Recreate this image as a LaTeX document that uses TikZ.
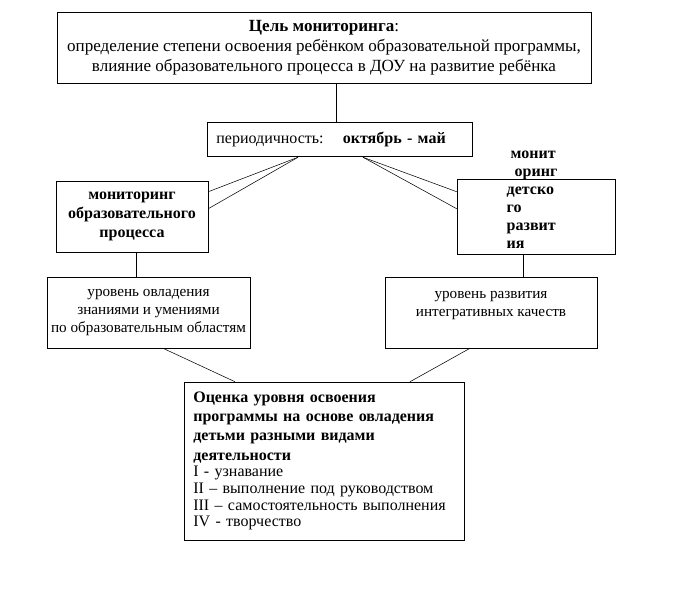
\documentclass[tikz,border=0pt]{standalone}
\usepackage{fontspec}
\setmainfont{Liberation Serif}
\usetikzlibrary{calc}

\begin{document}
\begin{tikzpicture}[x=.75pt, y=-.75pt, font=\fontsize{12}{14}\selectfont]
    \tikzstyle{box} = [rectangle, draw, thin, inner sep=0pt, align=center]
    \tikzstyle{link} = [thin]

    \useasboundingbox (0, 0) rectangle (689, 601);

    % Goal ----------------------------------------------
    \node[box, minimum width=400.5pt, minimum height=53.25pt,
        font=\fontsize{12.8}{14.5}\selectfont] (goal) at (324, 47.5) {
        \textbf{Цель мониторинга}:\\[.5pt]
        определение степени освоения ребёнком образовательной программы,\\[.5pt]
        влияние образовательного процесса в ДОУ на развитие ребёнка
    };
    \node[box, minimum width=198.75pt, minimum height=25.5pt, text width=184.75pt,
        align=left, inner xsep=7pt] (period) at (339.5, 139) {
        периодичность:\hspace{1.2em}\textbf{октябрь - май}
    };
    % ---------------------------------------------------

    % Monitoring ----------------------------------------
    \node[box, minimum width=114pt, minimum height=53.25pt,
        font=\fontsize{12}{14.5}\selectfont\bfseries] (proc) at (132, 216.5) {
        мониторинг\\образовательного\\процесса
    };
    \node[box, minimum width=118.5pt, minimum height=56.25pt] (child) at (536, 216.5) {};
    \node[align=left, inner sep=0pt, font=\fontsize{12}{13.5}\selectfont\bfseries]
        (childtext) at (532, 200) {
        \hspace{3pt}монит\\\hspace{6pt}оринг\\детско\\го\\развит\\ия
    };

    \draw[link] ($(goal.south) + (12, 0)$) -- ($(period.north) + (-3.5, 0)$);
    \draw[link] ($(period.south) + (-41.5, 1)$) -- ($(proc.north east) + (0, 11)$);
    \draw[link] ($(period.south) + (-41.5, 1)$) -- ($(proc.north east) + (0, 28)$);
    \draw[link] ($(period.south) + (23.5, 1)$) -- ($(child.north west) + (0, 13)$);
    \draw[link] ($(period.south) + (23.5, 1)$) -- ($(child.north west) + (0, 30)$);
    % ---------------------------------------------------

    % Levels --------------------------------------------
    \node[box, minimum width=152.25pt, minimum height=53.25pt,
        font=\fontsize{11.4}{13.5}\selectfont] (know) at (148.5, 312.5) {
        уровень овладения\\знаниями и умениями\\по образовательным областям
    };
    \node[box, minimum width=159pt, minimum height=53.25pt,
        font=\fontsize{11.4}{13.5}\selectfont] (integ) at (491, 312.5) {
        уровень развития\\интегративных качеств\\~
    };

    \draw[link] ($(proc.south) + (4, 0)$) -- ($(know.north) + (-12.5, 0)$);
    \draw[link] ($(child.south) + (-13, 0)$) -- ($(integ.north) + (32, 0)$);
    % ---------------------------------------------------

    % Evaluation ----------------------------------------
    \node[box, minimum width=210pt, minimum height=118.5pt, text width=196pt,
        align=left, inner xsep=7pt, font=\fontsize{12}{12.5}\selectfont] (eval) at (324, 461) {
        \textbf{Оценка уровня освоения}\\[2pt]
        \textbf{программы на основе овладения}\\[2pt]
        \textbf{детьми разными видами}\\[2pt]
        \textbf{деятельности}\\
        I - узнавание\\
        II – выполнение под руководством\\
        III – самостоятельность выполнения\\
        IV - творчество
    };

    \draw[link] ($(know.south) + (14.5, 0)$) -- ($(eval.north) + (-89, 0)$);
    \draw[link] ($(integ.south) + (-21, 0)$) -- ($(eval.north) + (86, 0)$);
\end{tikzpicture}
\end{document}
